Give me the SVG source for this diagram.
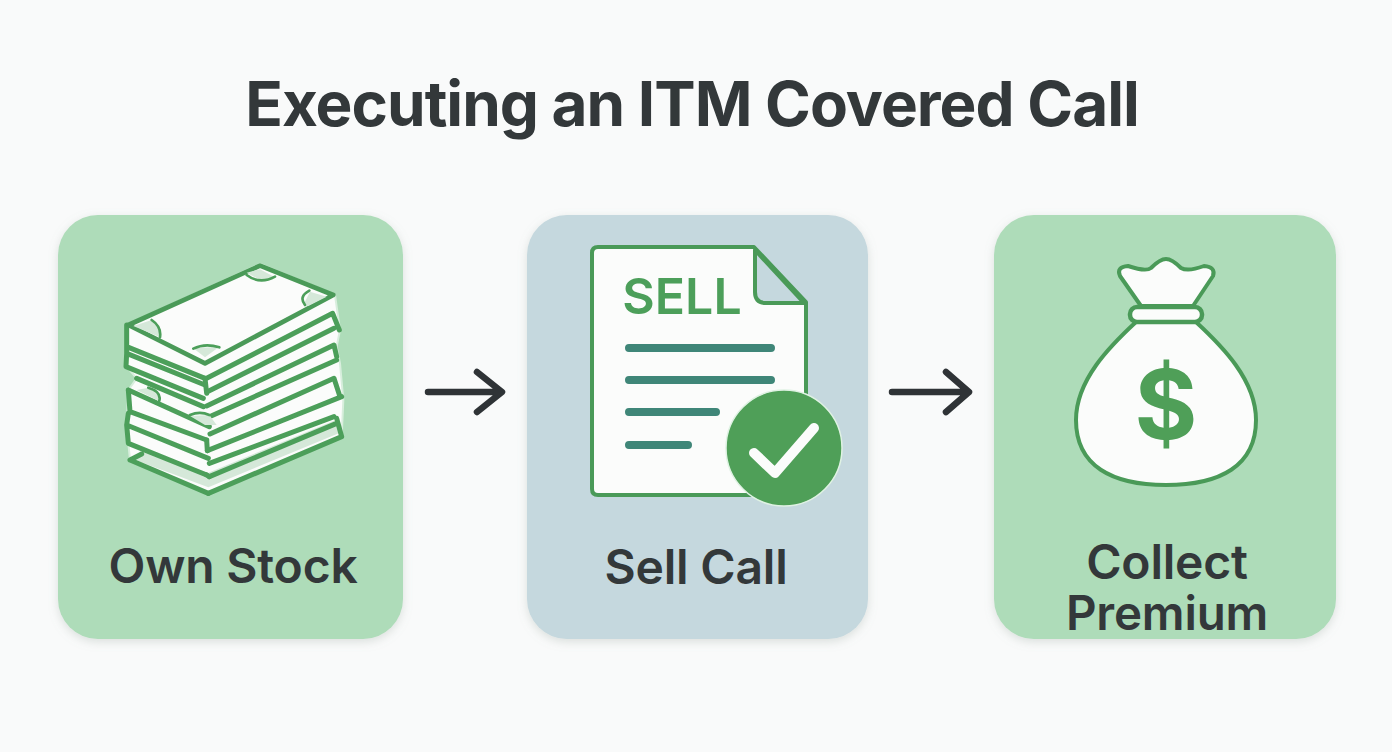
<svg xmlns="http://www.w3.org/2000/svg" width="1392" height="752" viewBox="0 0 1392 752">
<style>
.t{font-family:Inter,"Liberation Sans",sans-serif;font-weight:600;fill:#33383a;text-anchor:middle}
.l{font-size:48px;letter-spacing:-.2px}
.g{fill:none;stroke:#4c9f5a;stroke-linecap:round;stroke-linejoin:round}
.w{fill:#fbfcfb;stroke:#4a9a58;stroke-linejoin:round}
.bar{fill:none;stroke:#3f8678;stroke-width:8;stroke-linecap:round}
.arr{fill:none;stroke:#2f3336;stroke-width:6.5;stroke-linecap:round;stroke-linejoin:round}
.p{fill:#d5e8d9}
</style>
<defs><filter id="s" x="-10%" y="-10%" width="120%" height="120%"><feDropShadow dx="0" dy="3" stdDeviation="5" flood-color="#8a9a90" flood-opacity=".28"/></filter></defs>
<rect width="1392" height="752" fill="#f9fafa"/>
<text id="title" class="t" x="692" y="126" font-size="62" style="font-weight:650;letter-spacing:-1px">Executing an ITM Covered Call</text>
<g id="connectors">
<path class="arr" d="M428 392H501M477 372L502 392L477 412"/>
<path class="arr" d="M892 392H967M946 372L969 392L946 412"/>
</g>
<g id="own-stock">
<rect x="58" y="215" width="345" height="424" rx="40" fill="#aedcb9" filter="url(#s)"/>
<g transform="translate(110 250) scale(.33333)">
<path d="M50 225L450 42L675 135L690 240L680 290L690 340L700 450L695 560L295 730L60 630L50 530L55 420L80 385L50 350Z" fill="#fbfcfb" stroke="#d8eedd" stroke-width="6" stroke-linejoin="round"/>
<path class="p" d="M70 628L295 712L690 548L672 512L295 668L95 600Z"/>
<g class="g" stroke-width="15">
<path d="M290 385L668 190L688 240M292 425L672 235M290 468L672 285L680 320M305 497L680 330M300 552L672 385L690 440M292 602L695 440M298 640L672 500M298 680L680 520M295 730L695 560L680 505"/>
<path d="M50 225V290L285 385M50 310L48 350L280 445M50 290L50 310L285 405M80 385L280 470M55 420L298 530M55 420L60 485L290 570M55 490L50 525L295 625M50 525L55 580L290 675M60 630L295 730M60 630L95 612"/>
<path d="M285 385L290 430M290 570L292 602M290 675L298 680"/>
</g>
<path d="M55 225L450 47L670 135L285 340Z" class="w" stroke-width="14"/>
<path class="p" d="M70 228L125 210L152 240L150 262ZM250 295L328 290L285 322ZM410 68L450 58L495 82L455 92ZM580 165L600 125L650 140L595 168ZM80 420L115 413L152 440L145 452ZM240 498L298 495L320 525L285 525Z"/>
<path class="g" stroke-width="8" d="M125 210Q155 230 150 262M250 296Q285 278 328 292M410 75Q450 105 495 80M598 122Q565 140 585 165M115 413Q155 425 148 452M240 495Q270 482 298 495"/>
</g>
<text class="t l" x="233" y="583">Own Stock</text>
</g>
<g id="sell-call">
<rect x="527" y="215" width="341" height="424" rx="40" fill="#c5d8de" filter="url(#s)"/>
<path class="w" stroke-width="4" d="M598 247H754L806 302V490Q806 495 800 495H598Q592 495 592 489V253Q592 247 598 247Z"/>
<path d="M755 250V292Q755 303 766 303H804Z" fill="#c5d8de" stroke="#4a9a58" stroke-width="4" stroke-linejoin="round"/>
<text x="682" y="314" font-family="Inter,'Liberation Sans',sans-serif" font-weight="600" font-size="50" fill="#4c9f5a" text-anchor="middle">SELL</text>
<path class="bar" d="M629 348H771M629 380H771M629 412H716M629 445H688"/>
<circle cx="784" cy="448" r="58" fill="#4f9f58" stroke="#dff2e3" stroke-width="1.5"/>
<path d="M754 453L775 473L814 428" fill="none" stroke="#fbfcfb" stroke-width="10" stroke-linecap="round" stroke-linejoin="round"/>
<text class="t l" x="696" y="584">Sell Call</text>
</g>
<g id="collect-premium">
<rect x="994" y="215" width="342" height="424" rx="40" fill="#aedcb9" filter="url(#s)"/>
<path class="w" stroke-width="4" d="M1141 306L1120 276Q1116 267 1128 266Q1146 272 1151 268Q1160 259 1166 259Q1172 259 1181 268Q1188 272 1204 266Q1216 267 1213 276L1193 306Z"/>
<path class="w" stroke-width="4" d="M1136 322C1110 346 1076 380 1076 420C1076 466 1112 485 1166 485C1220 485 1256 466 1256 420C1256 380 1222 346 1196 322Z"/>
<rect class="w" x="1130" y="307" width="72" height="15" rx="7" stroke-width="4.5"/>
<text x="1166" y="439" font-family="Inter,'Liberation Sans',sans-serif" font-weight="700" font-size="96" fill="#4f9f58" text-anchor="middle">$</text>
<text class="t l" x="1167" y="579">Collect</text>
<text class="t l" x="1167" y="630" style="font-size:47.5px">Premium</text>
</g>
</svg>
